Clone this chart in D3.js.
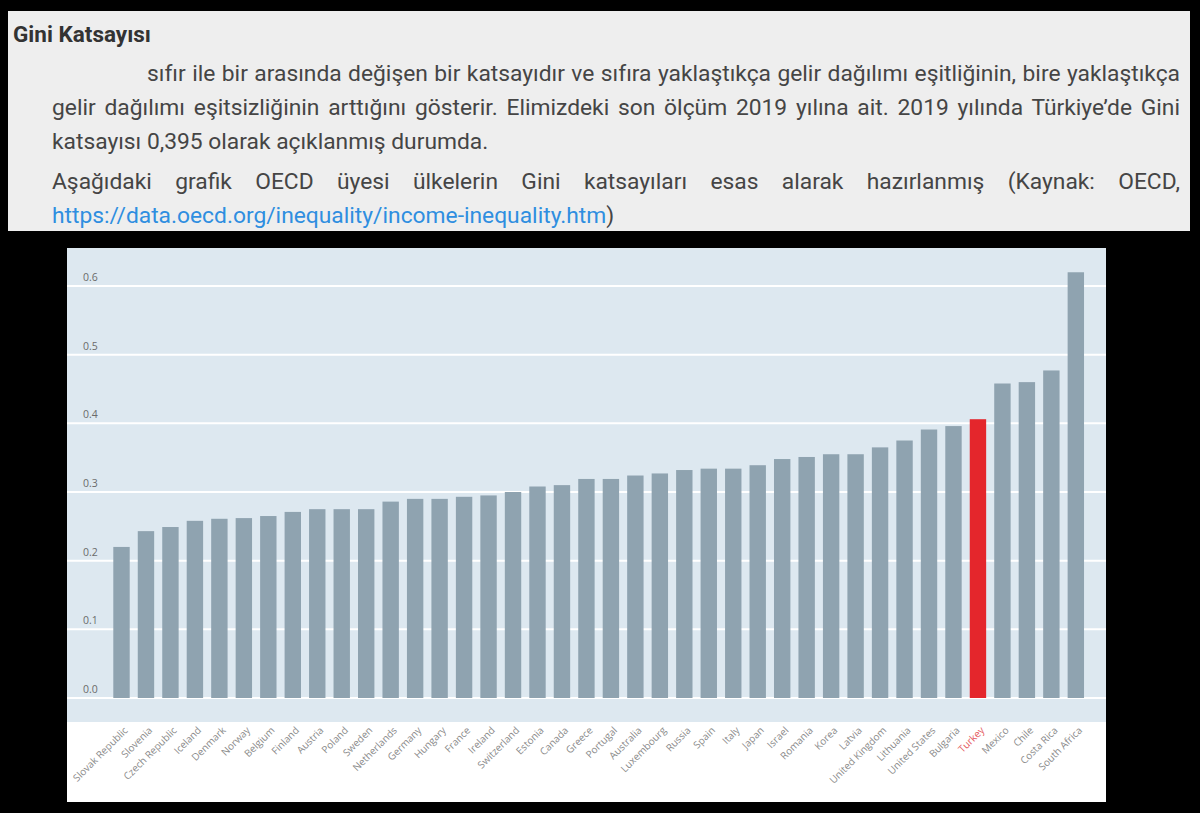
<!DOCTYPE html>
<html>
<head>
<meta charset="utf-8">
<script src="https://cdn.jsdelivr.net/npm/d3@7"></script>
<style>
  html, body { margin: 0; padding: 0; background: #000; }
  #page { position: relative; width: 1200px; height: 813px; overflow: hidden; background: #000; }
  #panel { position: absolute; left: 8px; top: 11px; width: 1182px; height: 220px; background: #eeeeee; }
  .ln { position: absolute; font-family: Roboto, sans-serif; font-size: 22.8px; line-height: 22px; color: #454545; white-space: nowrap; }
  .just { text-align: justify; text-align-last: justify; white-space: normal; }
  .ttl { font-weight: bold; color: #333; font-size: 22.5px; }
  a { color: #2f8ee0; text-decoration: none; }
  #chart { position: absolute; left: 0; top: 0; }
</style>
</head>
<body>
<div id="page">
  <div id="panel"></div>
  <div class="ln ttl" style="left:13px; top:23px;">Gini Katsayısı</div>
  <div class="ln just" style="left:147px; top:63px; width:1033px;">sıfır ile bir arasında değişen bir katsayıdır ve sıfıra yaklaştıkça gelir dağılımı eşitliğinin, bire yaklaştıkça</div>
  <div class="ln just" style="left:52px; top:97px; width:1128px;">gelir dağılımı eşitsizliğinin arttığını gösterir. Elimizdeki son ölçüm 2019 yılına ait. 2019 yılında Türkiye’de Gini</div>
  <div class="ln" style="left:52px; top:131px;">katsayısı 0,395 olarak açıklanmış durumda.</div>
  <div class="ln just" style="left:52px; top:171px; width:1128px;">Aşağıdaki grafik OECD üyesi ülkelerin Gini katsayıları esas alarak hazırlanmış (Kaynak: OECD,</div>
  <div class="ln" style="left:52px; top:205px;"><a>https://data.oecd.org/inequality/income-inequality.htm</a>)</div>
  <svg id="chart" width="1200" height="813"></svg>
</div>
<script>
// Gini coefficients
var countries = ["Slovak Republic", "Slovenia", "Czech Republic", "Iceland", "Denmark", "Norway",
  "Belgium", "Finland", "Austria", "Poland", "Sweden", "Netherlands", "Germany", "Hungary",
  "France", "Ireland", "Switzerland", "Estonia", "Canada", "Greece", "Portugal", "Australia",
  "Luxembourg", "Russia", "Spain", "Italy", "Japan", "Israel", "Romania", "Korea", "Latvia",
  "United Kingdom", "Lithuania", "United States", "Bulgaria", "Turkey", "Mexico", "Chile",
  "Costa Rica", "South Africa"];
var gini = [0.220, 0.243, 0.249, 0.258, 0.261, 0.262, 0.265, 0.271, 0.275, 0.275, 0.275, 0.286,
  0.290, 0.290, 0.293, 0.295, 0.300, 0.308, 0.310, 0.319, 0.319, 0.324, 0.327, 0.332, 0.334,
  0.334, 0.339, 0.348, 0.351, 0.355, 0.355, 0.365, 0.375, 0.391, 0.396, 0.406, 0.458, 0.460,
  0.477, 0.620];
var yTicks = [0, 0.1, 0.2, 0.3, 0.4, 0.5, 0.6];
var highlight = "Turkey";

var data = countries.map(function(c, i) { return {country: c, value: gini[i]}; });

var svg = d3.select("#chart");
var box = {left: 67, right: 1106, top: 248, plotBottom: 722, bottom: 802};

// white frame of the chart image, then the blue plot area
svg.append("rect")
  .attr("x", box.left).attr("y", box.top)
  .attr("width", box.right - box.left).attr("height", box.bottom - box.top)
  .attr("fill", "#ffffff");
svg.append("rect")
  .attr("x", box.left).attr("y", box.top)
  .attr("width", box.right - box.left).attr("height", box.plotBottom - box.top)
  .attr("fill", "#dde8f0");

var step = 24.47;
var x = d3.scaleBand()
  .domain(countries)
  .range([121.5 - step / 2, 121.5 - step / 2 + step * countries.length])
  .paddingInner(0.33)
  .paddingOuter(0.165);

var y = d3.scaleLinear()
  .domain([0, 0.6])
  .range([698, 286]);

// gridlines
svg.append("g").selectAll("line")
  .data(yTicks)
  .enter().append("line")
  .attr("x1", box.left).attr("x2", box.right)
  .attr("y1", function(d) { return y(d); })
  .attr("y2", function(d) { return y(d); })
  .attr("stroke", "#ffffff")
  .attr("stroke-width", 2);

// tick labels sit above their gridline
svg.append("g").selectAll("text")
  .data(yTicks)
  .enter().append("text")
  .attr("x", 83)
  .attr("y", function(d) { return y(d) - 5; })
  .attr("fill", "#6b6b6b")
  .style("font", "10.5px 'Open Sans', sans-serif")
  .text(function(d) { return d3.format(".1f")(d); });

svg.append("g").selectAll("rect")
  .data(data)
  .enter().append("rect")
  .attr("x", function(d) { return x(d.country); })
  .attr("width", x.bandwidth())
  .attr("y", function(d) { return y(d.value); })
  .attr("height", function(d) { return y(0) - y(d.value); })
  .attr("fill", function(d) { return d.country === highlight ? "#e4262c" : "#8fa3b0"; });

// rotated country names under the plot
svg.append("g").selectAll("text")
  .data(data)
  .enter().append("text")
  .attr("transform", function(d) {
    return "translate(" + (x(d.country) + x.bandwidth() / 2 + 7) + ",731) rotate(-45)";
  })
  .attr("text-anchor", "end")
  .attr("fill", function(d) { return d.country === highlight ? "#e45a60" : "#8a8a8a"; })
  .style("font", "10px 'Open Sans', sans-serif")
  .text(function(d) { return d.country; });
</script>
</body>
</html>
